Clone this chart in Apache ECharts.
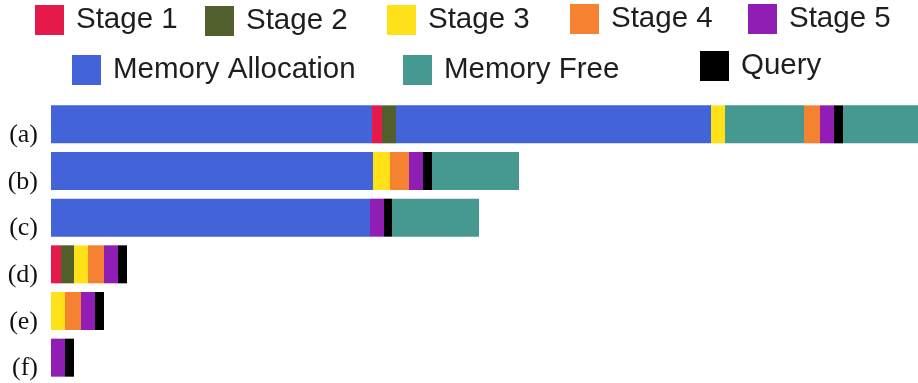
<!DOCTYPE html>
<html>
<head>
<meta charset="utf-8">
<script src="https://cdn.jsdelivr.net/npm/echarts@6/dist/echarts.min.js"></script>
<style>
  html, body { margin: 0; padding: 0; background: #fff; }
  #chart { width: 918px; height: 383px; }
</style>
</head>
<body>
<div id="chart"></div>
<script>
// Runs shown top to bottom
const runs = ['(a)', '(b)', '(c)', '(d)', '(e)', '(f)'];

// Phase durations per run, one array per segment in timeline order (null = phase absent)
const memAllocA = [321, 322, 319, null, null, null];
const stage1    = [10, null, null, 10, null, null];
const stage2    = [14, null, null, 13, null, null];
const memAllocB = [315, null, null, null, null, null];
const stage3    = [14, 17, null, 14, 14, null];
const memFreeA  = [79, null, null, null, null, null];
const stage4    = [16, 19, null, 16, 16, null];
const stage5    = [14, 14, 14, 14, 14, 14];
const query     = [9, 9, 8, 9, 9, 9];
const memFreeB  = [75, 87, 87, null, null, null];

const colors = {
  'Stage 1': '#e6194b',
  'Stage 2': '#515f2c',
  'Stage 3': '#ffe119',
  'Stage 4': '#f58231',
  'Stage 5': '#911eb4',
  'Memory Allocation': '#4363d8',
  'Memory Free': '#469990',
  'Query': '#000000'
};

const segments = [
  ['Memory Allocation', memAllocA],
  ['Stage 1', stage1],
  ['Stage 2', stage2],
  ['Memory Allocation', memAllocB],
  ['Stage 3', stage3],
  ['Memory Free', memFreeA],
  ['Stage 4', stage4],
  ['Stage 5', stage5],
  ['Query', query],
  ['Memory Free', memFreeB]
];

const series = segments.map(([name, values]) => ({
  name: name,
  type: 'bar',
  stack: 'timeline',
  barWidth: 38,
  data: values.map(v => (v == null ? '-' : v)),
  itemStyle: { color: colors[name] },
  emphasis: { disabled: true },
  animation: false
}));

// One legend block per entry so each can sit where it belongs
const legendSpots = [
  ['Stage 1', 35, 5],
  ['Stage 2', 205, 6],
  ['Stage 3', 387, 5],
  ['Stage 4', 570, 4],
  ['Stage 5', 748, 4],
  ['Memory Allocation', 72, 55],
  ['Memory Free', 403, 55],
  ['Query', 700, 51]
];

const legend = legendSpots.map(([name, x, y]) => ({
  data: [name],
  left: x,
  top: y,
  padding: 0,
  icon: 'rect',
  itemWidth: 29,
  itemHeight: 30,
  selectedMode: false,
  textStyle: {
    fontFamily: 'Liberation Sans',
    fontSize: 29.5,
    color: '#1e1e1e',
    padding: [0, 0, 0, 7]
  }
}));

const chart = echarts.init(document.getElementById('chart'), null, { renderer: 'canvas' });
chart.setOption({
  animation: false,
  legend: legend,
  grid: { left: 51, right: 0, top: 101, bottom: 2, containLabel: false },
  xAxis: {
    type: 'value',
    min: 0,
    max: 867,
    show: false
  },
  yAxis: {
    type: 'category',
    data: runs,
    inverse: true,
    axisLine: { show: false },
    axisTick: { show: false },
    splitLine: { show: false },
    axisLabel: {
      fontFamily: 'Liberation Serif',
      fontSize: 26,
      color: '#111',
      margin: 13,
      verticalAlign: 'top',
      lineHeight: 22
    }
  },
  series: series
});
</script>
</body>
</html>
